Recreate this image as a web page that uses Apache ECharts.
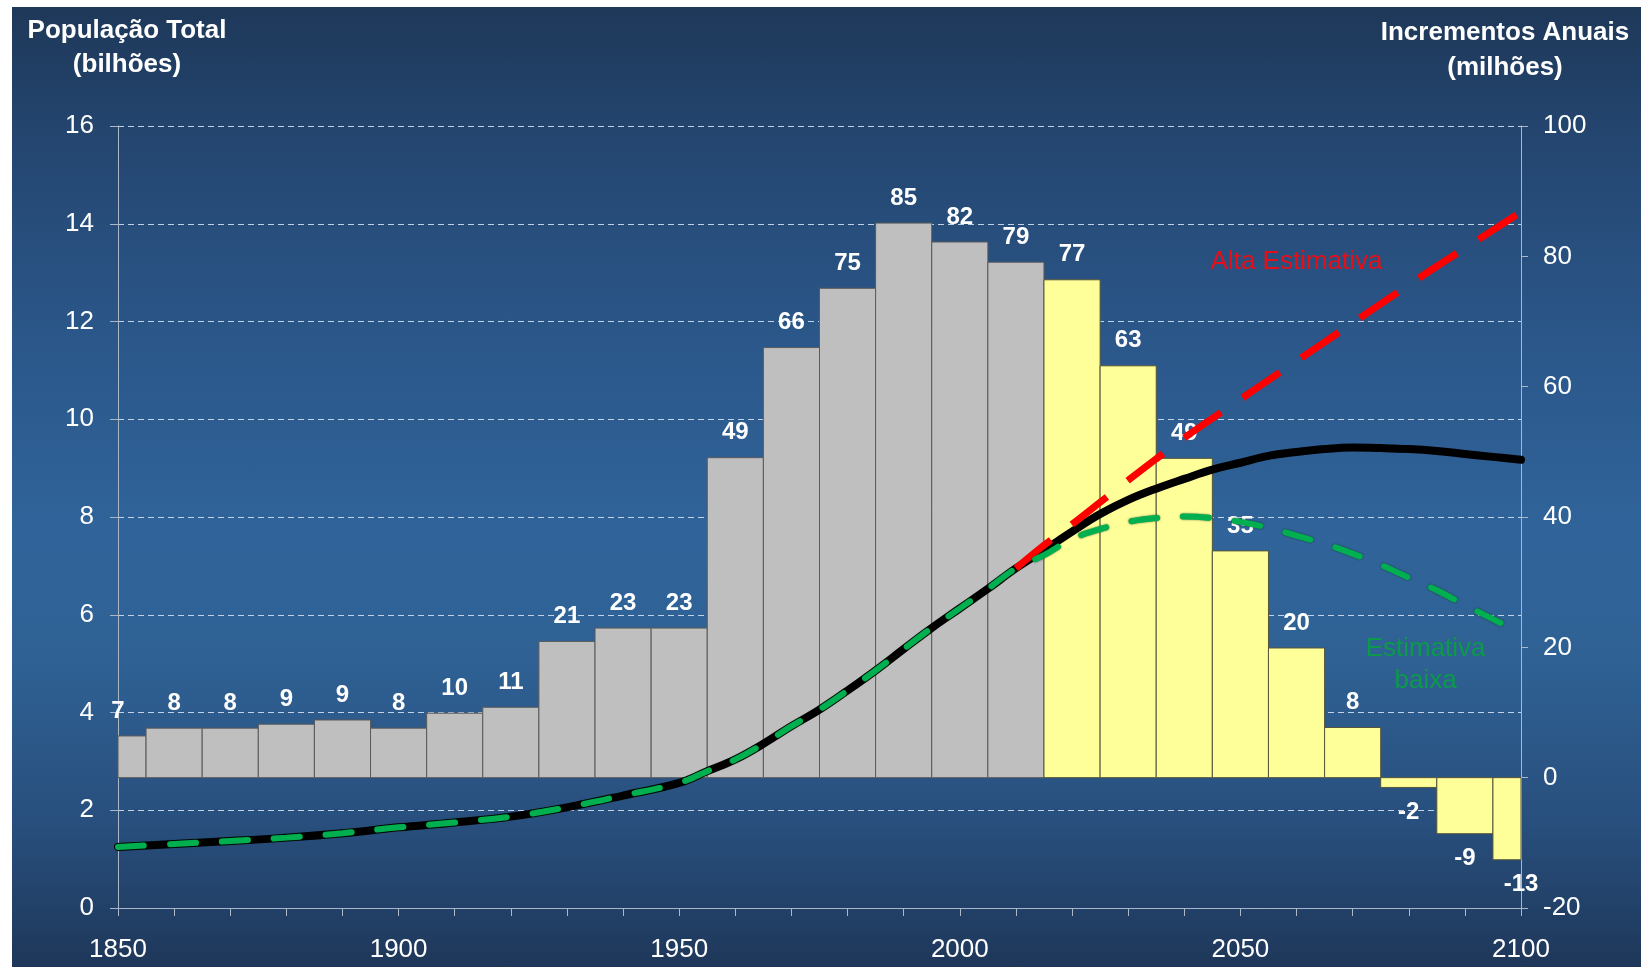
<!DOCTYPE html>
<html><head><meta charset="utf-8">
<script src="https://cdn.jsdelivr.net/npm/echarts@6/dist/echarts.min.js"></script>
<style>
html,body{margin:0;padding:0;background:#fff;width:1641px;height:967px;overflow:hidden}
#c{position:absolute;left:12px;top:7px;width:1629px;height:960px;
background:linear-gradient(to bottom,#1e3859 0%,#244670 14%,#2b578a 35%,#30649a 55%,#2f6194 68%,#284f7d 85%,#1e3759 100%);}
</style></head><body><div id="c"></div>
<script>
// Annual increments (millions) — bars centred on decades
const barYears = [1850,1860,1870,1880,1890,1900,1910,1920,1930,1940,1950,1960,1970,1980,1990,2000,2010,2020,2030,2040,2050,2060,2070,2080,2090,2100];
const increments = [6.4,7.6,7.6,8.2,8.85,7.6,9.9,10.8,20.9,22.95,22.95,49.1,66,75.1,85.1,82.2,79.1,76.4,63.2,49,34.8,19.9,7.7,-1.5,-8.6,-12.6];
const incrementLabels = [7,8,8,9,9,8,10,11,21,23,23,49,66,75,85,82,79,77,63,49,35,20,8,-2,-9,-13];
const lastHistoricalBar = 2010;

// Total population (billions)
const histYears = [1850,1860,1870,1880,1890,1900,1910,1920,1930,1940,1950,1955,1960,1965,1970,1975,1980,1985,1990,1995,2000,2005,2010];
const histPop = [1.25,1.31,1.37,1.44,1.53,1.65,1.75,1.87,2.06,2.30,2.56,2.80,3.04,3.36,3.72,4.06,4.45,4.86,5.30,5.73,6.13,6.53,6.95];
const projYears = [2015,2020,2025,2030,2035,2040,2045,2050,2055,2060,2065,2070,2075,2080,2085,2090,2095,2100];
const popMedium = [7.32,7.70,8.06,8.35,8.58,8.78,8.97,9.11,9.25,9.33,9.39,9.42,9.41,9.39,9.35,9.29,9.23,9.17];
const popHigh = [7.42,7.85,8.30,8.75,9.19,9.62,10.02,10.41,10.80,11.19,11.58,11.97,12.36,12.75,13.13,13.50,13.87,14.24];
const popLow = [7.22,7.55,7.75,7.90,7.98,8.01,7.98,7.90,7.78,7.62,7.45,7.25,7.02,6.76,6.50,6.20,5.91,5.62];

const xTicks = {min:1850, max:2100, step:10, labelStep:50};
const leftTicks = {min:0, max:16, step:2};
const rightTicks = {min:-20, max:100, step:20};

const FONT = '"Liberation Sans", Arial, sans-serif';
const pairs = (xs, ys) => xs.map((x, i) => [x, ys[i]]);
const medium = pairs(histYears, histPop).concat(pairs(projYears, popMedium));
const low = pairs(histYears, histPop).concat(pairs(projYears, popLow));
const high = [[2010, histPop[histPop.length - 1]]].concat(pairs(projYears, popHigh));

const axisCol = '#aab7c8';
const chart = echarts.init(document.getElementById('c'));
chart.setOption({
  animation: false,
  backgroundColor: 'transparent',
  grid: {left: 106, right: 120, top: 119, bottom: 59, containLabel: false},
  xAxis: {
    type: 'value', min: xTicks.min, max: xTicks.max, interval: xTicks.step,
    axisLine: {show: true, onZero: false, lineStyle: {color: axisCol, width: 1}},
    axisTick: {show: true, length: 8, lineStyle: {color: axisCol}},
    axisLabel: {color: '#fff', fontSize: 26, fontFamily: FONT, margin: 29,
      formatter: v => (v % xTicks.labelStep === 0 ? String(v) : '')},
    splitLine: {show: false}
  },
  yAxis: [{
    type: 'value', min: leftTicks.min, max: leftTicks.max, interval: leftTicks.step,
    axisLine: {show: true, lineStyle: {color: axisCol, width: 1}},
    axisTick: {show: true, length: 8, lineStyle: {color: axisCol}},
    axisLabel: {color: '#fff', fontSize: 26, fontFamily: FONT, margin: 24},
    splitLine: {show: true, lineStyle: {color: 'rgba(220,232,248,0.85)', width: 1, type: [6, 4]}}
  }, {
    type: 'value', position: 'right', min: rightTicks.min, max: rightTicks.max, interval: rightTicks.step,
    axisLine: {show: true, lineStyle: {color: axisCol, width: 1}},
    axisTick: {show: true, length: 7, lineStyle: {color: axisCol}},
    axisLabel: {color: '#fff', fontSize: 26, fontFamily: FONT, margin: 22},
    splitLine: {show: false}
  }],
  graphic: [
    {type: 'text', x: 115, y: 41, style: {text: 'População Total\n(bilhões)', fill: '#fff',
      font: 'bold 26px ' + FONT, textAlign: 'center', align: 'center', textVerticalAlign: 'middle', verticalAlign: 'middle', lineHeight: 34}},
    {type: 'text', x: 1493, y: 43, style: {text: 'Incrementos Anuais\n(milhões)', fill: '#fff',
      font: 'bold 26px ' + FONT, textAlign: 'center', align: 'center', textVerticalAlign: 'middle', verticalAlign: 'middle', lineHeight: 35}}
  ],
  series: [{
    type: 'custom', yAxisIndex: 1, clip: false,
    data: pairs(barYears, increments),
    renderItem: function (params, api) {
      const yr = api.value(0), v = api.value(1);
      const x0 = Math.max(yr - 5, xTicks.min), x1 = Math.min(yr + 5, xTicks.max);
      const a = api.coord([x0, 0]), b = api.coord([x1, v]);
      const c = api.coord([yr, v]);
      const proj = yr > lastHistoricalBar;
      const ly = v >= 0 ? c[1] - 25 : c[1] + 25;
      return {type: 'group', children: [
        {type: 'rect', shape: {x: Math.min(a[0], b[0]), y: Math.min(a[1], b[1]), width: Math.abs(b[0] - a[0]), height: Math.abs(b[1] - a[1])},
          style: {fill: proj ? '#ffff99' : '#bfbfbf', stroke: proj ? '#55553a' : '#5a5a5a', lineWidth: 1}},
        {type: 'text', x: c[0], y: ly,
          style: {text: String(incrementLabels[params.dataIndex]), fill: '#fff', font: 'bold 24px ' + FONT,
            textAlign: 'center', align: 'center', textVerticalAlign: 'middle', verticalAlign: 'middle'}}
      ]};
    }
  }, {
    type: 'line', yAxisIndex: 0, data: medium, showSymbol: false, smooth: 0.4,
    lineStyle: {color: '#000', width: 8, cap: 'round', join: 'round'}
  }, {
    type: 'line', yAxisIndex: 0, data: high, showSymbol: false, smooth: 0.3,
    lineStyle: {color: '#ff0000', width: 7, type: [45, 26], cap: 'butt'},
    markPoint: {symbol: 'circle', symbolSize: 0, silent: true,
      data: [{coord: [2060, 13.22], label: {show: true, position: 'inside', formatter: 'Alta Estimativa',
        color: '#e3101a', fontSize: 26, fontFamily: FONT}}]}
  }, {
    type: 'line', yAxisIndex: 0, data: low, showSymbol: false, smooth: 0.4,
    lineStyle: {color: '#00b050', width: 6, type: [26, 26], cap: 'round',
      shadowColor: 'rgba(0,50,10,0.7)', shadowBlur: 2},
    markPoint: {symbol: 'circle', symbolSize: 0, silent: true,
      data: [{coord: [2083, 4.97], label: {show: true, position: 'inside', formatter: 'Estimativa\nbaixa',
        color: '#0c9a4a', fontSize: 26, fontFamily: FONT, lineHeight: 32}}]}
  }]
});
</script></body></html>
